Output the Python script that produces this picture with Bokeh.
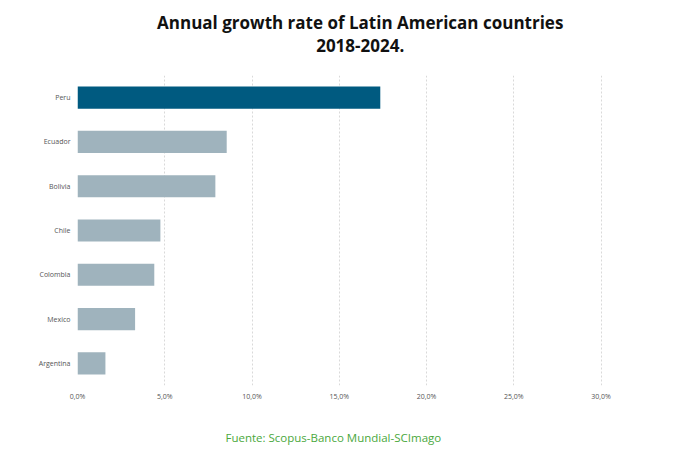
from bokeh.plotting import figure
from bokeh.models import Range1d, FixedTicker
from bokeh.layouts import column
from bokeh.core.properties import value
from bokeh.embed import file_html
from bokeh.resources import INLINE

countries = ["Peru", "Ecuador", "Bolivia", "Chile", "Colombia", "Mexico", "Argentina"]
growth = [17.35, 8.55, 7.9, 4.75, 4.4, 3.3, 1.6]
colors = ["#005a80", "#9fb3bd", "#9fb3bd", "#9fb3bd", "#9fb3bd", "#9fb3bd", "#9fb3bd"]
tick_values = [0, 5, 10, 15, 20, 25, 30]
tick_labels = ["0,0%", "5,0%", "10,0%", "15,0%", "20,0%", "25,0%", "30,0%"]
title_lines = ["Annual growth rate of Latin American countries", "2018-2024."]
source_text = ["Fuente: Scopus-Banco Mundial-SCImago"]

W = 664

def text_panel(h):
    f = figure(width=W, height=h, x_range=Range1d(0, W), y_range=Range1d(0, h),
               x_axis_type=None, y_axis_type=None, output_backend="svg",
               toolbar_location=None, title=None, min_border=0)
    f.outline_line_color = None
    f.xgrid.visible = False
    f.ygrid.visible = False
    return f

# header with the two title lines
head = text_panel(75)
head.text(x=[347, 347], y=[53, 30], text=title_lines, text_align="center",
          text_baseline="middle", text_font=value("Open Sans"), text_font_style="bold",
          text_font_size="17px", text_color="#111111")

# main chart
p = figure(width=W, height=330, y_range=list(reversed(countries)),
           x_range=Range1d(0, 31), output_backend="svg", toolbar_location=None, title=None,
           min_border_left=77, min_border_right=46, min_border_top=0, min_border_bottom=20)

p.hbar(y=countries, right=growth, left=0, height=0.5, fill_color=colors, line_color=None)

p.outline_line_color = None
p.ygrid.grid_line_color = None
p.xgrid.grid_line_color = "#d9d9d9"
p.xgrid.grid_line_dash = "2 2"
p.xgrid.ticker = FixedTicker(ticks=tick_values)

p.xaxis.ticker = FixedTicker(ticks=tick_values)
p.xaxis.major_label_overrides = {v: l for v, l in zip(tick_values, tick_labels)}
p.xaxis.major_label_standoff = 6
p.yaxis.major_label_standoff = 7
for ax in (p.xaxis[0], p.yaxis[0]):
    ax.axis_line_color = None
    ax.major_tick_line_color = None
    ax.minor_tick_line_color = None
    ax.major_tick_out = 0
    ax.major_tick_in = 0
    ax.minor_tick_out = 0
    ax.minor_tick_in = 0
    ax.major_label_text_font = "Open Sans"
    ax.major_label_text_font_size = "7px"
    ax.major_label_text_color = "#555555"

# footer with the source
foot = text_panel(44)
foot.text(x=[314], y=[12], text=source_text, text_align="center", text_baseline="middle",
          text_font=value("Open Sans"), text_font_size="11.5px", text_color="#4aa83c")

layout = column(head, p, foot, spacing=0)
open("out.html", "w").write(file_html(layout, INLINE))
